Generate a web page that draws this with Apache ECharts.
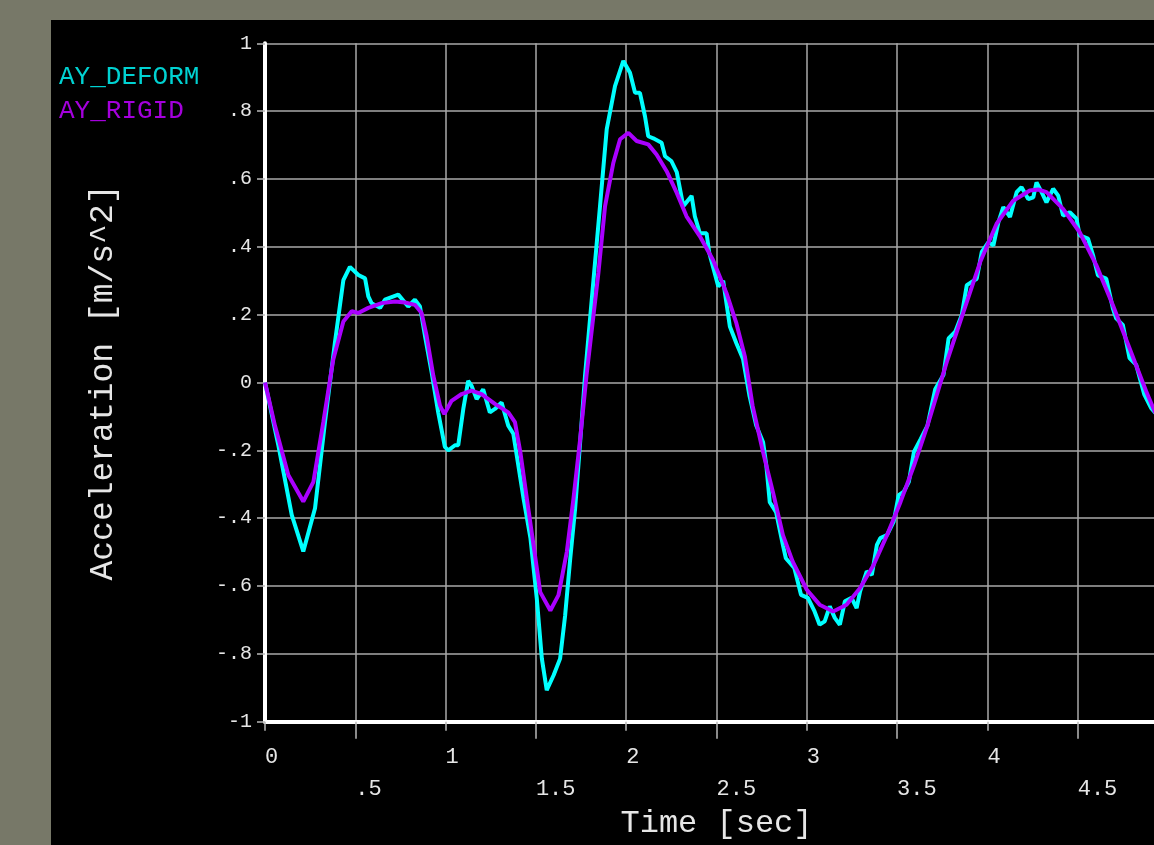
<!DOCTYPE html>
<html><head><meta charset="utf-8">
<script src="https://cdn.jsdelivr.net/npm/echarts@6/dist/echarts.min.js"></script>
<style>html,body{margin:0;padding:0;background:#000;} #c{width:1154px;height:845px;}</style>
</head><body><div id="c"></div>
<script>
const seriesNames = ['AY_DEFORM', 'AY_RIGID'];
const xTitle = 'Time [sec]';
const yTitle = 'Acceleration [m/s^2]';

const deformTime = [0, 0.074, 0.148, 0.212, 0.277, 0.332, 0.387, 0.434, 0.470, 0.517, 0.554, 0.572, 0.590, 0.637, 0.664, 0.738, 0.793, 0.830, 0.858, 0.886, 0.923, 0.959, 0.996, 1.015, 1.052, 1.070, 1.098, 1.125, 1.144, 1.172, 1.208, 1.245, 1.273, 1.310, 1.347, 1.375, 1.432, 1.470, 1.505, 1.533, 1.560, 1.598, 1.634, 1.662, 1.690, 1.717, 1.745, 1.772, 1.819, 1.855, 1.892, 1.938, 1.984, 2.021, 2.049, 2.076, 2.104, 2.122, 2.150, 2.196, 2.215, 2.250, 2.280, 2.316, 2.362, 2.380, 2.408, 2.445, 2.460, 2.510, 2.537, 2.574, 2.610, 2.647, 2.683, 2.720, 2.758, 2.776, 2.795, 2.830, 2.868, 2.884, 2.931, 2.968, 3.006, 3.043, 3.071, 3.099, 3.127, 3.155, 3.183, 3.211, 3.248, 3.276, 3.295, 3.332, 3.360, 3.388, 3.407, 3.444, 3.481, 3.509, 3.537, 3.565, 3.593, 3.631, 3.668, 3.711, 3.757, 3.785, 3.822, 3.858, 3.886, 3.941, 3.969, 4.006, 4.033, 4.061, 4.088, 4.125, 4.162, 4.189, 4.226, 4.254, 4.272, 4.300, 4.327, 4.364, 4.392, 4.419, 4.456, 4.493, 4.511, 4.557, 4.585, 4.612, 4.658, 4.695, 4.713, 4.750, 4.787, 4.824, 4.869, 4.906, 4.930];
const deformAccel = [0, -0.185, -0.39, -0.498, -0.371, -0.117, 0.117, 0.302, 0.341, 0.317, 0.307, 0.254, 0.234, 0.22, 0.244, 0.259, 0.224, 0.244, 0.224, 0.137, 0.029, -0.088, -0.19, -0.2, -0.185, -0.185, -0.078, 0.005, -0.01, -0.049, -0.02, -0.088, -0.078, -0.059, -0.127, -0.151, -0.343, -0.46, -0.637, -0.814, -0.907, -0.863, -0.814, -0.686, -0.52, -0.373, -0.176, 0.02, 0.303, 0.52, 0.746, 0.874, 0.948, 0.913, 0.854, 0.854, 0.785, 0.726, 0.72, 0.707, 0.667, 0.653, 0.62, 0.52, 0.55, 0.49, 0.44, 0.44, 0.382, 0.283, 0.30, 0.165, 0.116, 0.069, -0.04, -0.127, -0.176, -0.245, -0.353, -0.382, -0.48, -0.518, -0.547, -0.626, -0.635, -0.675, -0.714, -0.704, -0.66, -0.694, -0.714, -0.645, -0.635, -0.665, -0.616, -0.557, -0.567, -0.479, -0.459, -0.45, -0.41, -0.332, -0.322, -0.293, -0.205, -0.166, -0.127, -0.02, 0.023, 0.13, 0.15, 0.199, 0.287, 0.306, 0.385, 0.414, 0.404, 0.473, 0.517, 0.488, 0.561, 0.576, 0.541, 0.546, 0.59, 0.561, 0.531, 0.571, 0.551, 0.492, 0.502, 0.483, 0.434, 0.424, 0.375, 0.316, 0.306, 0.218, 0.189, 0.17, 0.072, 0.052, -0.036, -0.075, -0.09];

const rigidTime = [0, 0.055, 0.129, 0.212, 0.268, 0.323, 0.378, 0.434, 0.480, 0.517, 0.572, 0.646, 0.720, 0.775, 0.830, 0.867, 0.895, 0.932, 0.969, 0.993, 1.033, 1.089, 1.144, 1.199, 1.273, 1.347, 1.384, 1.414, 1.450, 1.487, 1.524, 1.580, 1.625, 1.671, 1.708, 1.745, 1.780, 1.846, 1.883, 1.929, 1.966, 2.012, 2.058, 2.122, 2.168, 2.224, 2.280, 2.334, 2.408, 2.480, 2.555, 2.610, 2.657, 2.700, 2.758, 2.813, 2.868, 2.922, 3.000, 3.071, 3.146, 3.220, 3.295, 3.370, 3.444, 3.519, 3.594, 3.668, 3.776, 3.868, 3.960, 4.051, 4.143, 4.235, 4.281, 4.327, 4.419, 4.511, 4.603, 4.695, 4.787, 4.879, 4.930];
const rigidAccel = [0, -0.127, -0.273, -0.351, -0.293, -0.117, 0.068, 0.18, 0.21, 0.205, 0.22, 0.234, 0.239, 0.236, 0.229, 0.205, 0.137, 0.02, -0.068, -0.093, -0.054, -0.034, -0.024, -0.034, -0.063, -0.088, -0.117, -0.206, -0.343, -0.48, -0.618, -0.672, -0.627, -0.50, -0.343, -0.167, 0.02, 0.323, 0.52, 0.648, 0.717, 0.736, 0.712, 0.702, 0.672, 0.623, 0.559, 0.49, 0.431, 0.362, 0.264, 0.175, 0.077, -0.069, -0.206, -0.324, -0.45, -0.528, -0.611, -0.655, -0.675, -0.655, -0.606, -0.538, -0.45, -0.352, -0.244, -0.127, 0.062, 0.209, 0.355, 0.468, 0.536, 0.566, 0.569, 0.561, 0.512, 0.443, 0.346, 0.228, 0.101, -0.026, -0.09];

const FONT = 'Liberation Mono';
const TXT = '#e6e6e6';
const GRID_C = '#a8a8a8';
const GRAY = '#777868';

function fmt(v) {
  v = Math.round(v * 10) / 10;
  if (v === 0) return '0';
  const a = Math.abs(v);
  const s = (a === Math.round(a)) ? String(a) : String(a).replace(/^0\./, '.');
  return (v < 0 ? '-' : '') + s;
}
function isInt(v) { return Math.abs(v - Math.round(v)) < 1e-6; }

const chart = echarts.init(document.getElementById('c'), null, { renderer: 'canvas' });
chart.setOption({
  animation: false,
  backgroundColor: '#000',
  graphic: [
    { type: 'rect', left: 0, top: 0, shape: { width: 1154, height: 20 }, style: { fill: GRAY }, silent: true },
    { type: 'rect', left: 0, top: 0, shape: { width: 51, height: 845 }, style: { fill: GRAY }, silent: true }
  ],
  legend: {
    orient: 'vertical', left: 48, top: 59, itemWidth: 0, itemHeight: 0, itemGap: 8,
    selectedMode: false,
    itemStyle: { opacity: 0 }, lineStyle: { opacity: 0 },
    textStyle: { fontFamily: FONT, fontSize: 26 },
    data: [
      { name: seriesNames[0], textStyle: { color: '#00d2d2' } },
      { name: seriesNames[1], textStyle: { color: '#a400dc' } }
    ]
  },
  grid: { left: 265, top: 43.3, right: -14, bottom: 123.3, containLabel: false, outerBoundsMode: 'none' },
  xAxis: [
    {
      type: 'value', min: 0, max: 5, interval: 1, position: 'bottom',
      axisLine: { onZero: false, lineStyle: { color: '#fff', width: 4 } },
      axisTick: { length: 9, lineStyle: { color: '#b8b8b8', width: 1.5 } },
      minorTick: { show: true, splitNumber: 2, length: 17, lineStyle: { color: '#b8b8b8', width: 1.5 } },
      splitLine: { show: true, lineStyle: { color: GRID_C, width: 1.5 } },
      minorSplitLine: { show: true, lineStyle: { color: GRID_C, width: 1.5 } },
      axisLabel: { color: TXT, fontFamily: FONT, fontSize: 22, align: 'left', margin: 24, formatter: fmt },
      name: xTitle, nameLocation: 'middle', nameGap: 86,
      nameTextStyle: { color: TXT, fontFamily: FONT, fontSize: 32 }
    },
    {
      type: 'value', min: 0, max: 5, interval: 0.5, position: 'bottom',
      axisLine: { show: false }, axisTick: { show: false }, splitLine: { show: false },
      axisLabel: { color: TXT, fontFamily: FONT, fontSize: 22, align: 'left', margin: 56,
        formatter: v => isInt(v) ? '' : fmt(v) }
    }
  ],
  yAxis: {
    type: 'value', min: -1, max: 1, interval: 0.2,
    axisLine: { onZero: false, lineStyle: { color: '#fff', width: 4 } },
    axisTick: { length: 8, lineStyle: { color: '#b8b8b8', width: 1.5 } },
    splitLine: { show: true, lineStyle: { color: GRID_C, width: 1.5 } },
    axisLabel: { color: TXT, fontFamily: FONT, fontSize: 20, margin: 13, padding: [0, 0, 6, 0], formatter: fmt },
    name: yTitle, nameLocation: 'middle', nameGap: 145, nameRotate: 90,
    nameTextStyle: { color: TXT, fontFamily: FONT, fontSize: 33 }
  },
  series: [
    {
      type: 'line', name: seriesNames[0], xAxisIndex: 0,
      data: deformTime.map((t, i) => [t, deformAccel[i]]),
      showSymbol: false, symbol: 'none',
      lineStyle: { color: '#00ffff', width: 4 }, itemStyle: { color: '#00ffff' }, z: 3
    },
    {
      type: 'line', name: seriesNames[1], xAxisIndex: 0,
      data: rigidTime.map((t, i) => [t, rigidAccel[i]]),
      showSymbol: false, symbol: 'none',
      lineStyle: { color: '#aa00ff', width: 4 }, itemStyle: { color: '#aa00ff' }, z: 4
    }
  ]
});
</script>
</body></html>
